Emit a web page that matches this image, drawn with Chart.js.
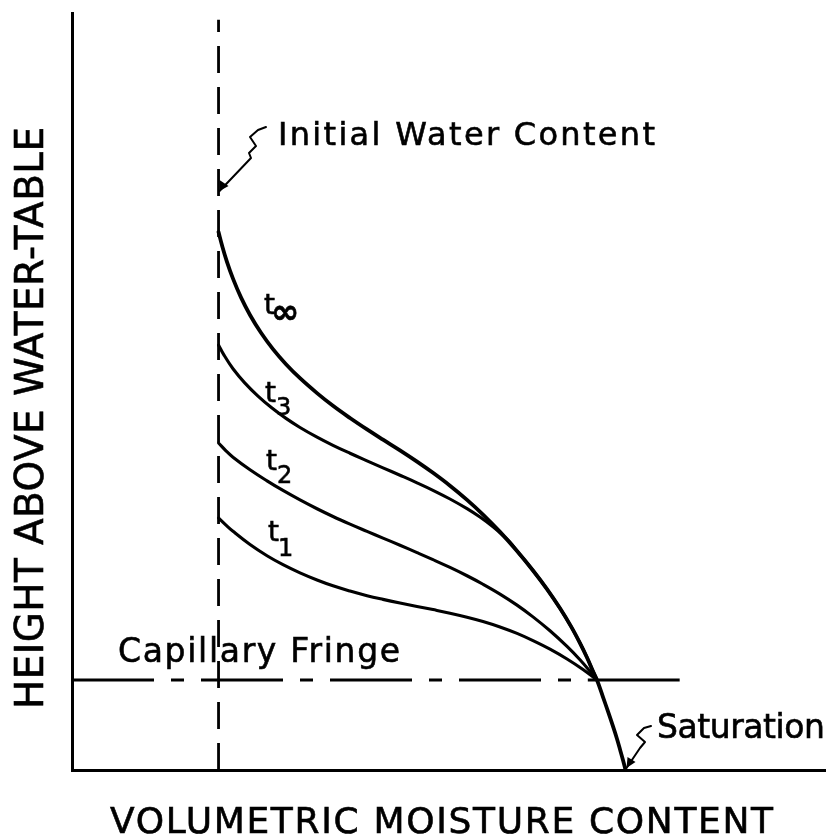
<!DOCTYPE html>
<html>
<head>
<meta charset="utf-8">
<script src="https://cdn.jsdelivr.net/npm/chart.js@4.4.1/dist/chart.umd.min.js"></script>
<style>
  html, body { margin: 0; padding: 0; background: #ffffff; }
  #wrap { width: 833px; height: 839px; }
</style>
</head>
<body>
<div id="wrap"><canvas id="c" width="833" height="839"></canvas></div>
<script>
// ---- Data (arbitrary units: moisture content 0-100, height 0-100) ----
const seriesNames = ['t\u221E', 't3', 't2', 't1'];
const tInf = [[19.46,71.07],[19.92,69.31],[20.58,67.13],[21.38,64.91],[22.44,62.43],[23.64,60.11],[25.10,57.76],[26.69,55.60],[28.42,53.61],[30.28,51.76],[32.54,49.79],[34.66,48.11],[36.92,46.50],[39.18,44.99],[41.30,43.64],[43.56,42.23],[45.82,40.74],[47.94,39.26],[50.20,37.56],[52.46,35.69],[54.58,33.75],[56.84,31.46],[59.10,28.94],[61.22,26.36],[63.08,23.90],[64.81,21.36],[66.27,18.97],[67.46,16.77],[68.39,14.87],[69.19,13.05],[69.72,11.89],[70.52,9.64],[71.18,7.73],[71.85,5.75],[72.38,4.10],[72.78,2.71],[73.17,1.32],[73.51,0]];
const t3 = [[19.46,56.14],[20.19,54.80],[21.38,53.01],[22.97,51.11],[24.70,49.40],[26.56,47.82],[28.42,46.45],[30.28,45.25],[32.54,43.97],[34.66,42.89],[36.92,41.84],[39.18,40.84],[41.30,39.92],[43.56,38.94],[45.82,37.94],[47.94,36.95],[50.20,35.80],[52.46,34.52],[54.18,33.41],[55.91,32.12],[57.24,30.98],[58.17,30.08],[59.10,28.94],[61.22,26.36],[63.08,23.90],[64.81,21.36],[66.27,18.97],[67.46,16.77],[68.39,14.87],[69.19,13.05],[69.72,11.89]];
const t2 = [[19.46,43.20],[20.45,42.16],[21.38,41.32],[23.64,39.66],[25.90,38.20],[28.02,36.93],[30.28,35.68],[32.54,34.51],[34.66,33.49],[36.92,32.48],[39.18,31.52],[41.30,30.63],[43.56,29.69],[45.82,28.72],[47.94,27.79],[50.20,26.76],[52.46,25.66],[54.58,24.54],[56.84,23.24],[59.10,21.78],[61.22,20.23],[63.48,18.39],[65.74,16.32],[67.46,14.56],[68.79,13.04],[69.72,11.89]];
const t1 = [[19.46,33.29],[20.45,32.35],[21.38,31.53],[23.64,29.78],[25.90,28.30],[28.02,27.12],[30.28,26.04],[32.54,25.10],[34.66,24.33],[36.92,23.64],[39.18,23.03],[41.30,22.54],[43.56,22.06],[45.82,21.61],[47.94,21.19],[50.20,20.72],[52.46,20.19],[54.58,19.62],[56.84,18.90],[59.10,18.05],[61.22,17.10],[63.48,15.97],[65.74,14.67],[67.86,13.28],[69.72,11.89]];
const initialWater = [[19.46,0],[19.46,99.1]];
const capillaryFringe = [[0,11.89],[68.5,11.89],[80.7,11.89]];
const xTitle = 'VOLUMETRIC MOISTURE CONTENT';
const yTitle = 'HEIGHT ABOVE WATER-TABLE';

const pts = a => a.map(p => ({x: p[0], y: p[1]}));

// ---- Text / annotation plugin ----
const FONT = '"DejaVu Sans", "Liberation Sans", sans-serif';
function fitText(ctx, text, x, y, targetW, size, rot) {
  ctx.save();
  ctx.font = size + 'px ' + FONT;
  ctx.letterSpacing = '0px';
  const w = ctx.measureText(text).width;
  const n = [...text].length;
  ctx.translate(x, y);
  if (rot) ctx.rotate(rot);
  const ls = (targetW - w) / (n - 1);
  if (ls < -1.5) {
    ctx.scale(targetW / w, 1);
  } else {
    ctx.letterSpacing = ls.toFixed(2) + 'px';
  }
  ctx.textAlign = 'left';
  ctx.textBaseline = 'alphabetic';
  ctx.fillStyle = '#000';
  ctx.strokeStyle = '#000';
  ctx.lineWidth = 0.6;
  ctx.fillText(text, 0, 0);
  ctx.strokeText(text, 0, 0);
  ctx.restore();
}
function tLabel(ctx, x, y, sub, subFont, subDx, subDy) {
  ctx.save();
  ctx.fillStyle = '#000';
  ctx.strokeStyle = '#000';
  ctx.lineWidth = 0.6;
  ctx.font = '28px ' + FONT;
  ctx.textBaseline = 'alphabetic';
  ctx.fillText('t', x, y);
  ctx.strokeText('t', x, y);
  ctx.font = subFont;
  ctx.fillText(sub, x + subDx, y + subDy);
  ctx.strokeText(sub, x + subDx, y + subDy);
  ctx.restore();
}
function leader(ctx, pathPts, tip, barbs) {
  ctx.save();
  ctx.strokeStyle = '#000';
  ctx.lineWidth = 2;
  ctx.lineJoin = 'round';
  ctx.lineCap = 'round';
  ctx.beginPath();
  ctx.moveTo(pathPts[0][0], pathPts[0][1]);
  for (let i = 1; i < pathPts.length; i++) ctx.lineTo(pathPts[i][0], pathPts[i][1]);
  ctx.lineTo(tip[0], tip[1]);
  ctx.stroke();
  ctx.beginPath();
  ctx.moveTo(tip[0], tip[1]);
  ctx.lineTo(barbs[0][0], barbs[0][1]);
  ctx.lineTo(barbs[1][0], barbs[1][1]);
  ctx.closePath();
  ctx.fillStyle = '#000';
  ctx.fill();
  ctx.restore();
}
const annotations = {
  id: 'annotations',
  afterDraw(chart) {
    const ctx = chart.ctx;
    const xs = chart.scales.x, ys = chart.scales.y;
    const X = v => xs.getPixelForValue(v), Y = v => ys.getPixelForValue(v);
    // Axis titles
    fitText(ctx, xTitle, 110, 833, 663, 36, 0);
    fitText(ctx, yTitle, 43, 709, 582, 39, -Math.PI / 2);
    // Annotations
    fitText(ctx, 'Initial Water Content', 278, 145, 377, 32, 0);
    fitText(ctx, 'Capillary Fringe', 118, 662, 282, 33, 0);
    fitText(ctx, 'Saturation', 657, 738, 168, 33, 0);
    // Curve labels
    tLabel(ctx, 264, 314, '\u221E', 'bold 34px ' + FONT, 7, 9);
    tLabel(ctx, 265, 402, '3', '24px ' + FONT, 11, 13);
    tLabel(ctx, 266, 470, '2', '24px ' + FONT, 11, 13);
    tLabel(ctx, 268, 541, '1', '24px ' + FONT, 10, 15);
    // Leader arrows
    const xi = X(initialWater[0][0]);
    leader(ctx, [[266,127],[258,130],[250,137],[256,146],[249,153],[251,158]], [xi + 1, 191], [[xi + 1, 180], [xi + 10, 186]]);
    const xsat = X(tInf[tInf.length - 1][0]);
    leader(ctx, [[651,726],[644,728],[637,735],[645,742],[640,748]], [xsat + 1, Y(0) - 2], [[xsat + 2, Y(0) - 13], [xsat + 10, Y(0) - 8]]);
  }
};

const curveStyle = (w) => ({
  borderColor: '#000', borderWidth: w, pointRadius: 0, fill: false,
  tension: 0.4, showLine: true, borderJoinStyle: 'round', borderCapStyle: 'round'
});

new Chart(document.getElementById('c'), {
  type: 'line',
  data: {
    datasets: [
      Object.assign({label: seriesNames[0], data: pts(tInf)}, curveStyle(3.8)),
      Object.assign({label: seriesNames[1], data: pts(t3)}, curveStyle(3.1)),
      Object.assign({label: seriesNames[2], data: pts(t2)}, curveStyle(3.1)),
      Object.assign({label: seriesNames[3], data: pts(t1)}, curveStyle(3.1)),
      {label: 'Initial Water Content', data: pts(initialWater), borderColor: '#000', borderWidth: 2.8,
       pointRadius: 0, borderDash: [27, 14], tension: 0},
      {label: 'Capillary Fringe', data: pts(capillaryFringe), borderColor: '#000', borderWidth: 2.8,
       pointRadius: 0, tension: 0,
       segment: { borderDash: c => c.p0DataIndex === 0 ? [82, 17, 13, 17] : [] }}
    ]
  },
  options: {
    responsive: false,
    maintainAspectRatio: false,
    animation: false,
    devicePixelRatio: 1,
    layout: { padding: { left: 72, right: 8, top: 13, bottom: 69 } },
    plugins: { legend: { display: false }, tooltip: { enabled: false }, title: { display: false } },
    scales: {
      x: {
        type: 'linear', min: 0, max: 100,
        grid: { display: false, drawTicks: false },
        ticks: { display: false },
        border: { display: true, color: '#000', width: 3 },
        title: { display: false, text: xTitle }
      },
      y: {
        type: 'linear', min: 0, max: 100,
        grid: { display: false, drawTicks: false },
        ticks: { display: false },
        border: { display: true, color: '#000', width: 3 },
        title: { display: false, text: yTitle }
      }
    }
  },
  plugins: [annotations]
});
</script>
</body>
</html>
